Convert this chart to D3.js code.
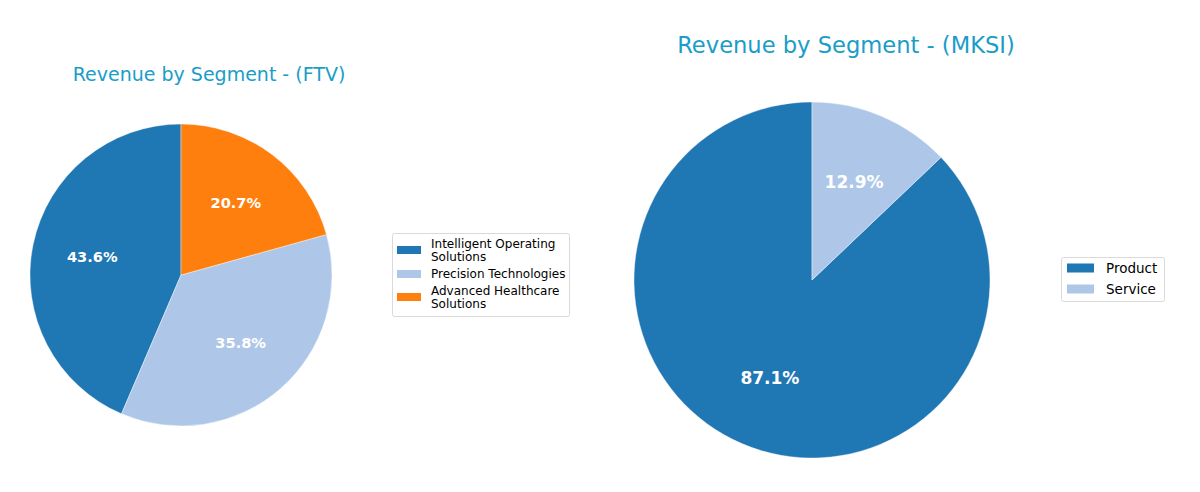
<!DOCTYPE html>
<html><head><meta charset="utf-8">
<script src="https://cdn.jsdelivr.net/npm/d3@7"></script>
<style>body{margin:0;background:#fff}svg{display:block}text{font-family:"DejaVu Sans",sans-serif}</style>
</head><body>
<svg id="c" width="1200" height="492"></svg>
<script>
const ftvCategories = ["Intelligent Operating Solutions", "Precision Technologies", "Advanced Healthcare Solutions"];
const ftvLegendLabels = [["Intelligent Operating", "Solutions"], ["Precision Technologies"], ["Advanced Healthcare", "Solutions"]];
const ftvValues = [43.6, 35.8, 20.7];
const mksiCategories = ["Product", "Service"];
const mksiValues = [87.1, 12.9];
const ftvColors = ["#1f77b4", "#aec7e8", "#ff7f0e"];
const mksiColors = ["#1f77b4", "#aec7e8"];
const titleColor = "#1a9dc8";

const svg = d3.select("#c");

function drawPie(opts) {
  const g = svg.append("g").attr("transform", `translate(${opts.cx},${opts.cy})`);
  // counterclockwise from top (matplotlib startangle=90)
  const pie = d3.pie().sort(null).value(d => d).startAngle(0).endAngle(-2 * Math.PI);
  const arcs = pie(opts.values);
  const arc = d3.arc().innerRadius(0).outerRadius(opts.r);
  const labelArc = d3.arc().innerRadius(opts.r * 0.6).outerRadius(opts.r * 0.6);
  g.selectAll("path").data(arcs).enter().append("path")
    .attr("d", arc).attr("fill", (d, i) => opts.colors[i])
    .attr("stroke", "#fff").attr("stroke-width", 0.4);
  const total = d3.sum(opts.values);
  g.selectAll("text.pct").data(arcs).enter().append("text")
    .attr("class", "pct")
    .attr("transform", d => `translate(${labelArc.centroid(d)})`)
    .attr("text-anchor", "middle").attr("dy", "0.36em")
    .attr("fill", "#fff").attr("font-weight", "bold").attr("font-size", opts.pctSize)
    .text(d => (d.data / total * 100).toFixed(1) + "%");
  svg.append("text").attr("x", opts.titleX).attr("y", opts.titleY)
    .attr("text-anchor", "middle").attr("fill", titleColor).attr("font-size", opts.titleSize)
    .text(opts.title);
}

drawPie({cx: 181, cy: 275, r: 151, values: ftvValues, colors: ftvColors, pctSize: 14.6,
  title: "Revenue by Segment - (FTV)", titleX: 209, titleY: 81, titleSize: 19});
drawPie({cx: 812, cy: 280, r: 178, values: mksiValues, colors: mksiColors, pctSize: 17,
  title: "Revenue by Segment - (MKSI)", titleX: 846, titleY: 53, titleSize: 22.6});

// FTV legend
const lg1 = svg.append("g");
lg1.append("rect").attr("x", 392.5).attr("y", 233.5).attr("width", 177).attr("height", 83)
  .attr("rx", 2).attr("fill", "#fff").attr("stroke", "#d9d9d9");
const ftvEntryY = [250, 274, 297];
ftvLegendLabels.forEach((lines, i) => {
  lg1.append("rect").attr("x", 397).attr("y", ftvEntryY[i] - 4).attr("width", 24).attr("height", 8)
    .attr("fill", ftvColors[i]);
  const t = lg1.append("text").attr("x", 431).attr("font-size", 12).attr("fill", "#000");
  const y0 = ftvEntryY[i] - (lines.length - 1) * 6.5;
  lines.forEach((ln, j) => {
    t.append("tspan").attr("x", 431).attr("y", y0 + j * 13).attr("dy", "0.36em").text(ln);
  });
});

// MKSI legend
const lg2 = svg.append("g");
lg2.append("rect").attr("x", 1061.5).attr("y", 257.5).attr("width", 103).attr("height", 44)
  .attr("rx", 2).attr("fill", "#fff").attr("stroke", "#d9d9d9");
mksiCategories.forEach((c, i) => {
  const y = 268 + i * 21;
  lg2.append("rect").attr("x", 1067).attr("y", y - 4.5).attr("width", 27).attr("height", 9).attr("fill", mksiColors[i]);
  lg2.append("text").attr("x", 1106).attr("y", y).attr("dy", "0.36em").attr("font-size", 13.5).text(c);
});
</script>
</body></html>
